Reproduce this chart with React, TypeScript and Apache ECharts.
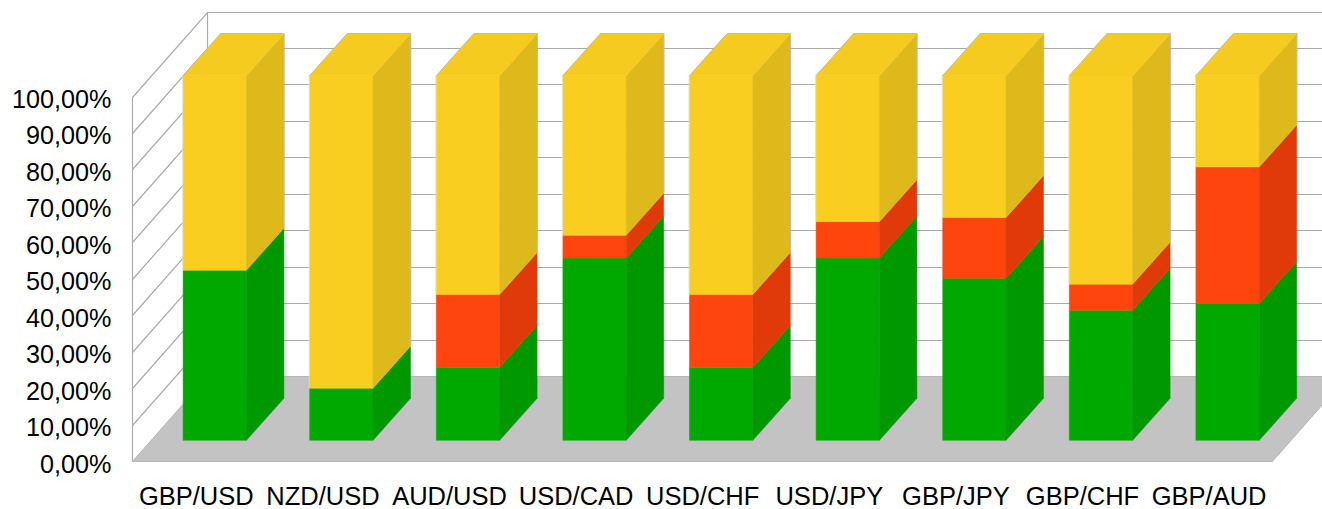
import React, { useEffect, useRef } from "react";
import * as echarts from "echarts";

const categories = ["GBP/USD", "NZD/USD", "AUD/USD", "USD/CAD", "USD/CHF", "USD/JPY", "GBP/JPY", "GBP/CHF", "GBP/AUD"];
const greenValues = [46.67, 14.29, 20, 50, 20, 50, 44.44, 35.71, 37.5];
const redValues = [0, 0, 20, 6.25, 20, 10, 16.67, 7.14, 37.5];
const yellowValues = [53.33, 85.71, 60, 43.75, 60, 40, 38.89, 57.14, 25];
const axisTicks = [0, 10, 20, 30, 40, 50, 60, 70, 80, 90, 100];

const WALL_DX = 75;
const WALL_DY = 85;
const BAR_DX = 37.5;
const BAR_DY = 42;
const LINE = "#ababab";
const FLOOR = "#c3c3c3";
const FONT = "'Liberation Sans', Arial, sans-serif";

type Shade = { front: string; side: string; top: string };
const GREEN: Shade = { front: "#00a900", side: "#009800", top: "#00a000" };
const RED: Shade = { front: "#ff450e", side: "#e03a0b", top: "#f0400c" };
const YELLOW: Shade = { front: "#f9ce20", side: "#deb91c", top: "#f4cb1e" };

function barItem(shade: Shade, isTop: boolean) {
  return (_p: any, api: any) => {
    if (api.value(1) === api.value(2)) return { type: "group", children: [] };
    const i = api.value(0);
    const band = api.size([1, 0])[0];
    const w = band / 2;
    const offX = WALL_DX / 4 - 0.3;
    const offY = -WALL_DY / 4 + 0.6;
    const a = api.coord([i, api.value(1)]);
    const b = api.coord([i, api.value(2)]);
    const x0 = a[0] - w / 2 + offX;
    const x1 = x0 + w;
    const y0 = a[1] + offY;
    const y1 = b[1] + offY;
    const children: any[] = [
      {
        type: "polygon",
        shape: { points: [[x0, y0], [x1, y0], [x1, y1], [x0, y1]] },
        style: { fill: shade.front, stroke: shade.front, lineWidth: 0.5 },
      },
      {
        type: "polygon",
        shape: { points: [[x1, y0], [x1 + BAR_DX, y0 - BAR_DY], [x1 + BAR_DX, y1 - BAR_DY], [x1, y1]] },
        style: { fill: shade.side, stroke: shade.side, lineWidth: 0.5 },
      },
    ];
    if (isTop) {
      children.push({
        type: "polygon",
        shape: { points: [[x0, y1], [x1, y1], [x1 + BAR_DX, y1 - BAR_DY], [x0 + BAR_DX, y1 - BAR_DY]] },
        style: { fill: shade.top, stroke: shade.top, lineWidth: 0.5 },
      });
      children.push({
        type: "polyline",
        shape: { points: [[x0 - 0.5, y0], [x0 - 0.5, y1]] },
        style: { fill: "none", stroke: "#dcdcd4", lineWidth: 0.8 },
      });
      children.push({
        type: "polyline",
        shape: {
          points: [
            [x0 - 0.3, y1],
            [x0 + BAR_DX, y1 - BAR_DY - 0.3],
            [x1 + BAR_DX + 0.3, y1 - BAR_DY - 0.3],
            [x1 + BAR_DX + 0.3, y0 - BAR_DY],
          ],
        },
        style: { fill: "none", stroke: "#b4b4ac", lineWidth: 0.8 },
      });
    }
    return { type: "group", children };
  };
}

function wallItem(_p: any, api: any) {
  const tick = api.value(1);
  const band = api.size([1, 0])[0];
  const left = api.coord([0, tick])[0] - band / 2 - 0.5;
  const right = api.coord([categories.length - 1, tick])[0] + band / 2;
  const y = Math.round(api.coord([0, tick])[1]) + 0.5;
  const children: any[] = [];
  const stroke = { fill: "none", stroke: LINE, lineWidth: 1.2 };
  if (tick === 0) {
    children.push({
      type: "polygon",
      shape: { points: [[left, y], [right, y], [right + WALL_DX, y - WALL_DY], [left + WALL_DX, y - WALL_DY]] },
      style: { fill: FLOOR, stroke: LINE, lineWidth: 0.8 },
    });
  } else {
    children.push({
      type: "polyline",
      shape: { points: [[left, y], [left + WALL_DX, y - WALL_DY], [right + WALL_DX, y - WALL_DY]] },
      style: stroke,
    });
  }
  if (tick === 100) {
    const y0 = Math.round(api.coord([0, 0])[1]) + 0.5;
    children.push({ type: "line", shape: { x1: left, y1: y0, x2: left, y2: y }, style: stroke });
    children.push({
      type: "line",
      shape: { x1: left + WALL_DX, y1: y0 - WALL_DY, x2: left + WALL_DX, y2: y - WALL_DY },
      style: stroke,
    });
  }
  return { type: "group", children };
}

function stackData(values: number[], below: number[][]) {
  return values.map((v, i) => {
    const start = below.reduce((sum, arr) => sum + arr[i], 0);
    return [i, start, start + v];
  });
}

export default function App() {
  const ref = useRef<HTMLDivElement>(null);
  useEffect(() => {
    document.body.style.margin = "0";
    const chart = echarts.init(ref.current!, undefined, { renderer: "svg" });
    const customBase = { type: "custom", silent: true, clip: false };
    chart.setOption({
      animation: false,
      backgroundColor: "#ffffff",
      grid: { left: 133, right: 49.6, top: 96.5, bottom: 48, containLabel: false, outerBoundsMode: "none" },
      xAxis: {
        type: "category",
        data: categories,
        axisLine: { show: false },
        axisTick: { show: false },
        splitLine: { show: false },
        axisLabel: { interval: 0, margin: 23, fontSize: 25.5, lineHeight: 24, fontFamily: FONT, color: "#000000" },
      },
      yAxis: {
        type: "value",
        min: 0,
        max: 100,
        interval: 10,
        axisLine: { show: false },
        axisTick: { show: false },
        splitLine: { show: false },
        axisLabel: {
          margin: 21.5,
          fontSize: 25.2,
          fontFamily: FONT,
          color: "#000000",
          verticalAlign: "top",
          lineHeight: 5,
          formatter: (v: number) => v.toFixed(2).replace(".", ",") + "%",
        },
      },
      series: [
        {
          ...customBase,
          name: "Wall",
          z: 1,
          renderItem: wallItem,
          encode: { x: 0, y: 1 },
          data: axisTicks.map((t) => [0, t]),
        },
        {
          ...customBase,
          name: "Green",
          z: 2,
          renderItem: barItem(GREEN, false),
          encode: { x: 0, y: [1, 2] },
          data: stackData(greenValues, []),
        },
        {
          ...customBase,
          name: "Red",
          z: 3,
          renderItem: barItem(RED, false),
          encode: { x: 0, y: [1, 2] },
          data: stackData(redValues, [greenValues]),
        },
        {
          ...customBase,
          name: "Yellow",
          z: 4,
          renderItem: barItem(YELLOW, true),
          encode: { x: 0, y: [1, 2] },
          data: stackData(yellowValues, [greenValues, redValues]),
        },
      ],
    });
    return () => chart.dispose();
  }, []);
  return <div ref={ref} style={{ width: 1322, height: 509 }} />;
}
